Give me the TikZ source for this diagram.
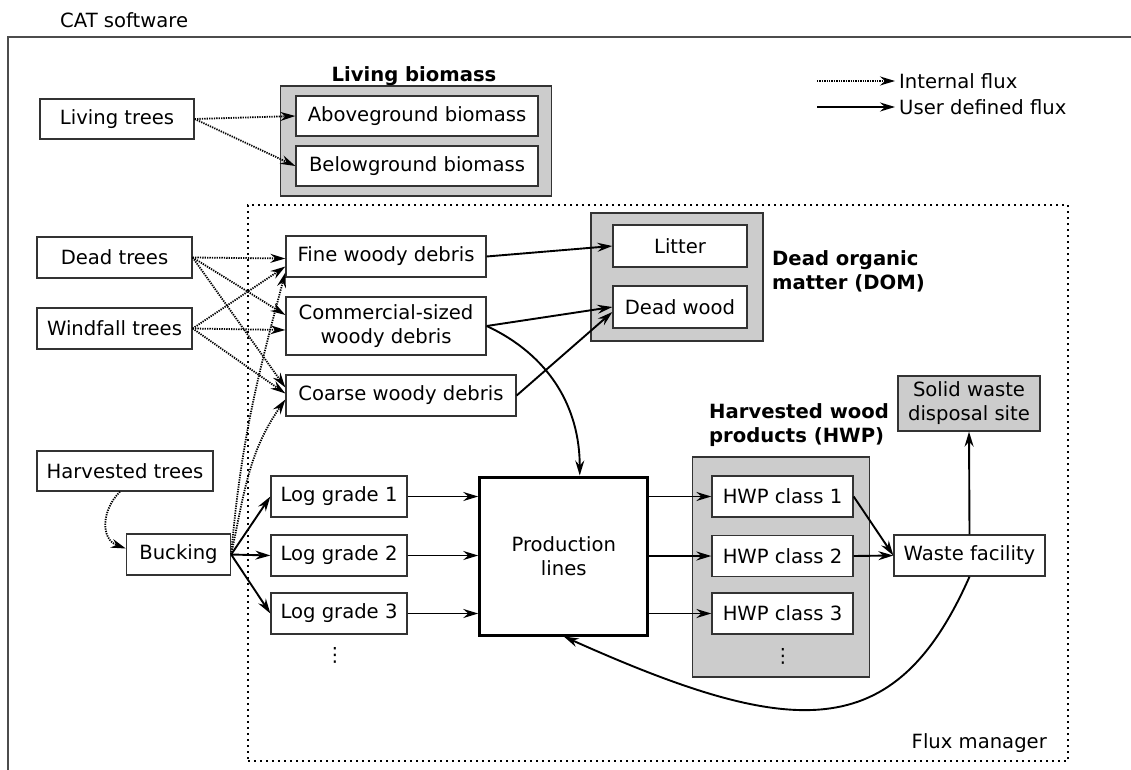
\documentclass[tikz,border=0pt]{standalone}
\usepackage{fontspec}
\setmainfont{DejaVu Sans}
\usepackage{tikz}
\usetikzlibrary{arrows.meta,calc}
\definecolor{poolgray}{HTML}{CCCCCC}
\definecolor{edgegray}{HTML}{333333}

\begin{document}
\begin{tikzpicture}[x=1pt, y=1pt,
    font=\fontsize{19.6}{24}\selectfont,
    box/.style={draw=edgegray, line width=1.3pt, fill=white, minimum height=41pt, inner sep=2pt, align=center},
    pool/.style={draw=edgegray, line width=1.3pt, fill=poolgray, inner sep=0pt},
    title/.style={font=\fontsize{19.6}{24}\selectfont\bfseries, inner sep=0pt, align=left},
    intflux/.style={line width=1.8pt, dash pattern=on 1.3pt off 1.1pt, -{Stealth[length=15pt, width=9pt, inset=5pt]}},
    userflux/.style={line width=1.9pt, -{Stealth[length=15pt, width=9pt, inset=5pt]}}
]
    \useasboundingbox (0,0) rectangle (1131,-770);

    % CAT software frame (runs off the page)
    \node[inner sep=0pt, anchor=base west] (cat) at (60,-28) {CAT software};
    \draw[black!70, line width=1.4pt] (8,-770) |- (1131,-37);

    % Flux manager frame
    \node[draw, line width=1.6pt, dash pattern=on 1.6pt off 4.4pt, minimum width=820pt, minimum height=556pt] (fluxmgr) at (658,-483) {};
    \node[inner sep=0pt, anchor=base east] (fluxlbl) at (1047,-748) {Flux manager};

    % legend
    \coordinate (lg1a) at (817,-81);
    \coordinate (lg1b) at (895,-81);
    \coordinate (lg2a) at (817,-107);
    \coordinate (lg2b) at (895,-107);
    \draw[intflux] (lg1a) -- (lg1b);
    \draw[userflux] (lg2a) -- (lg2b);
    \node[inner sep=0pt, anchor=west] (lgint) at (899,-81) {Internal flux};
    \node[inner sep=0pt, anchor=west] (lguser) at (899,-107) {User defined flux};

    % Living biomass
    \node[pool, minimum width=271.5pt, minimum height=110pt] (biopool) at (416,-141) {};
    \node[title, anchor=base] (biotitle) at (414,-82) {Living biomass};
    \node[box, minimum width=242pt, minimum height=40pt] (above) at (417,-116) {Aboveground biomass};
    \node[box, minimum width=242pt, minimum height=40pt] (below) at (417,-166) {Belowground biomass};

    % Dead organic matter
    \node[pool, minimum width=172pt, minimum height=128pt] (dompool) at (677,-277) {};
    \node[title, anchor=west] (domtitle) at (772,-271) {Dead organic\\matter (DOM)};
    \node[box, minimum width=134pt, minimum height=42pt] (litter) at (680,-246) {Litter};
    \node[box, minimum width=134pt, minimum height=42pt] (dwood) at (680,-307) {Dead wood};

    % Harvested wood products
    \node[pool, minimum width=177.5pt, minimum height=220pt] (hwppool) at (781,-567) {};
    \node[title, anchor=west] (hwptitle) at (709,-425) {Harvested wood\\products (HWP)};
    \node[box, minimum width=141pt] (hwp1) at (782.5,-496.5) {HWP class 1};
    \node[box, minimum width=141pt] (hwp2) at (782.5,-556) {HWP class 2};
    \node[box, minimum width=141pt] (hwp3) at (782.5,-613.5) {HWP class 3};
    \node[inner sep=0pt] (hwpdots) at (783,-656) {⋮};

    % tree sources
    \node[box, minimum width=154pt, minimum height=40pt] (living) at (117,-119) {Living trees};
    \node[box, minimum width=155pt] (dead) at (114.5,-257.5) {Dead trees};
    \node[box, minimum width=155pt] (wind) at (114.5,-328.5) {Windfall trees};
    \node[box, minimum width=176pt, minimum height=40pt] (harv) at (125,-471) {Harvested trees};
    \node[box, minimum width=104pt] (buck) at (178.5,-554.5) {Bucking};

    % debris
    \node[box, minimum width=200pt] (fine) at (386,-256.5) {Fine woody debris};
    \node[box, minimum width=200pt, minimum height=58pt] (comm) at (386,-326) {Commercial-sized\\woody debris};
    \node[box, minimum width=230pt] (coarse) at (401,-395.5) {Coarse woody debris};

    % logs and production
    \node[box, minimum width=136pt] (log1) at (339,-496.5) {Log grade 1};
    \node[box, minimum width=136pt] (log2) at (339,-555.5) {Log grade 2};
    \node[box, minimum width=136pt] (log3) at (339,-613.5) {Log grade 3};
    \node[inner sep=0pt] (logdots) at (335,-655) {⋮};
    \node[box, line width=3pt, draw=black, minimum width=168pt, minimum height=158pt] (prod) at (563.75,-556) {Production\\lines};

    % waste
    \node[box, minimum width=151pt] (waste) at (969.5,-555.5) {Waste facility};
    \node[box, fill=poolgray, minimum width=142pt, minimum height=55pt] (swds) at (969,-403.5) {Solid waste\\disposal site};

    % internal fluxes
    \draw[intflux] (living.east) -- (above.west);
    \draw[intflux] (living.east) -- (below.west);
    \draw[intflux] (dead.east) -- ([yshift=-2pt]fine.west);
    \draw[intflux] (dead.east) -- ([yshift=11pt]comm.west);
    \draw[intflux] (dead.east) -- ([yshift=8pt]coarse.west);
    \draw[intflux] (wind.east) -- ([yshift=-10pt]fine.west);
    \draw[intflux] (wind.east) -- ([yshift=-4pt]comm.west);
    \draw[intflux] (wind.east) -- ([yshift=2pt]coarse.west);
    \draw[intflux] (buck.east) to[out=85, in=-105] ([yshift=-16pt]fine.west);
    \draw[intflux] (buck.east) to[out=78, in=-125] ([yshift=-4pt]coarse.west);
    \draw[intflux] ([xshift=-5pt]harv.south) to[out=-135, in=160, looseness=1.2] ([yshift=6pt]buck.west);

    % user defined fluxes
    \draw[userflux] (fine.east) -- (litter.west);
    \draw[userflux] (comm.east) -- (dwood.west);
    \draw[userflux] (coarse.east) -- ([yshift=-5pt]dwood.west);
    \draw[userflux] (comm.east) to[out=-25, in=90] ([xshift=16pt]prod.north);
    \foreach \g in {1,2,3} {
        \draw[userflux] (buck.east) -- (log\g.west);
        \draw[userflux] (log\g.east) -- (log\g.east -| prod.west);
        \draw[userflux] (hwp\g.west -| prod.east) -- (hwp\g.west);
    }
    \draw[userflux] (hwp1.east) -- (waste.west);
    \draw[userflux] (hwp2.east) -- (waste.west);
    \draw[userflux] (waste.north) -- (swds.south);
    \draw[userflux] (waste.south) .. controls +(-75,-170) and +(228,-102) .. (prod.south);
\end{tikzpicture}
\end{document}
